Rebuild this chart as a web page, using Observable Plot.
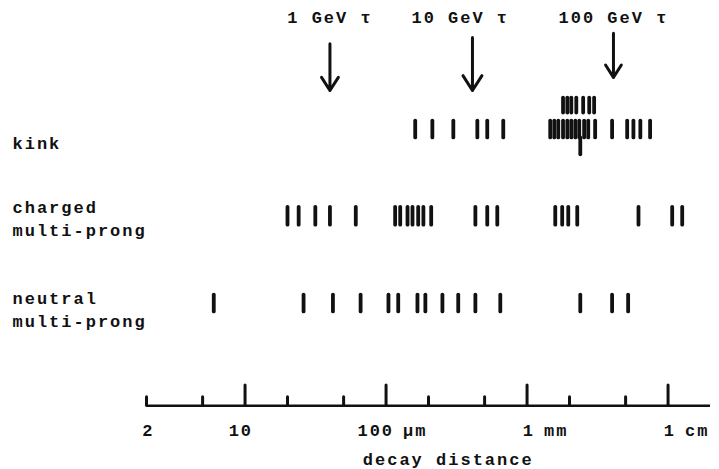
<!DOCTYPE html>
<html>
<head>
<meta charset="utf-8">
<script src="https://cdn.jsdelivr.net/npm/d3@7"></script>
<script src="https://cdn.jsdelivr.net/npm/@observablehq/plot@0.6"></script>
<style>
  body { margin: 0; background: #fff; }
  svg text { letter-spacing: 2px; }
</style>
</head>
<body>
<div id="chart"></div>
<script>
// decay distances in micrometres
const kinkMain = [161, 213, 300, 444, 522, 678, 1460, 1560, 1665, 1800, 1930, 2060, 2200, 2345, 2540, 2715, 3040, 4010, 5130, 5680, 6360, 7460];
const kinkUpper = [1800, 1930, 2060, 2235, 2500, 2760, 2990];
const kinkLower = [2385];
const chargedMulti = [20, 24, 31.5, 40, 61, 116, 126, 142, 154, 169, 184, 209, 430, 522, 615, 1585, 1775, 1960, 2270, 6170, 10700, 12600];
const neutralMulti = [6, 26, 42, 66, 104, 122, 167, 190, 251, 325, 430, 646, 2385, 4010, 5210];

// tau decay energies and their markers
const tauLabels = ["1 GeV τ", "10 GeV τ", "100 GeV τ"];
const tauArrowX = [40, 410, 4100];
const tauLabelX = [40, 336, 4100];
const arrowTop = [0.92, 0.79, 0.70];
const arrowBottom = [1.92, 1.92, 1.64];

// row levels (vertical layout units, 0 = top, 10 = bottom)
const rowLevel = [2.24, 2.75, 3.11, 4.6, 6.46];
const rowHalf = [0.16, 0.18, 0.18, 0.19, 0.18];
const rowSeries = [kinkUpper, kinkMain, kinkLower, chargedMulti, neutralMulti];

const rowLabels = ["kink", "charged\nmulti-prong", "neutral\nmulti-prong"];
const rowLabelLevel = [3.0, 4.62, 6.56];

// axis
const majorTicks = [10, 100, 1000, 10000];
const minorTicks = [2, 5, 20, 50, 200, 500, 2000, 5000];
const tickNumbers = ["2", "10", "100", "1", "1"];
const tickNumberPos = [2, 10, 100, 1000, 10000];
const tickUnits = ["µm", "mm", "cm"];
const tickUnitPos = [100, 1000, 10000];
const axisDomain = [2, 20000];
const axisLevel = 8.64;
const axisTitle = "decay distance";
const axisTitlePos = 276;

const marksData = [];
rowSeries.forEach((s, i) => s.forEach(v => marksData.push({x: v, y1: rowLevel[i] - rowHalf[i], y2: rowLevel[i] + rowHalf[i]})));
const arrows = tauArrowX.map((x, i) => ({x, y1: arrowTop[i], y2: arrowBottom[i]}));
const labels = tauLabels.map((t, i) => ({t, x: tauLabelX[i]}));

const font = {fontFamily: "Liberation Mono, DejaVu Sans Mono, monospace", fontSize: 17, fontWeight: "bold", fill: "#111"};

const chart = Plot.plot({
  width: 719,
  height: 469,
  marginLeft: 146,
  marginRight: 9,
  marginTop: 0,
  marginBottom: 0,
  x: {type: "log", domain: axisDomain, axis: null},
  y: {domain: [10, 0], axis: null},
  marks: [
    Plot.ruleX(marksData, {x: "x", y1: "y1", y2: "y2", stroke: "#111", strokeWidth: 3.8, strokeLinecap: "round"}),
    Plot.arrow(arrows, {x1: "x", x2: "x", y1: "y1", y2: "y2", stroke: "#111", strokeWidth: 3, headLength: 15, headAngle: 65}),
    Plot.text(labels, {x: "x", y: () => 0.36, text: "t", ...font}),
    Plot.text(rowLabels, {y: (d, i) => rowLabelLevel[i], text: d => d, frameAnchor: "left", textAnchor: "start", dx: -134, lineHeight: 1.35, ...font}),
    Plot.ruleY([axisLevel], {x1: axisDomain[0], x2: axisDomain[1], stroke: "#111", strokeWidth: 2.5}),
    Plot.ruleX(majorTicks, {x: d => d, y1: axisLevel, y2: axisLevel - 0.43, stroke: "#111", strokeWidth: 3, strokeLinecap: "round"}),
    Plot.ruleX(minorTicks, {x: d => d, y1: axisLevel, y2: axisLevel - 0.18, stroke: "#111", strokeWidth: 3, strokeLinecap: "round"}),
    Plot.text(tickNumbers, {x: (d, i) => tickNumberPos[i], y: () => 9.17, text: d => d, textAnchor: "end", dx: 8, ...font}),
    Plot.text(tickUnits, {x: (d, i) => tickUnitPos[i], y: () => 9.17, text: d => d, textAnchor: "start", dx: 17, ...font}),
    Plot.text([axisTitle], {x: () => axisTitlePos, y: () => 9.78, text: d => d, ...font})
  ]
});
document.getElementById("chart").appendChild(chart);
</script>
</body>
</html>
